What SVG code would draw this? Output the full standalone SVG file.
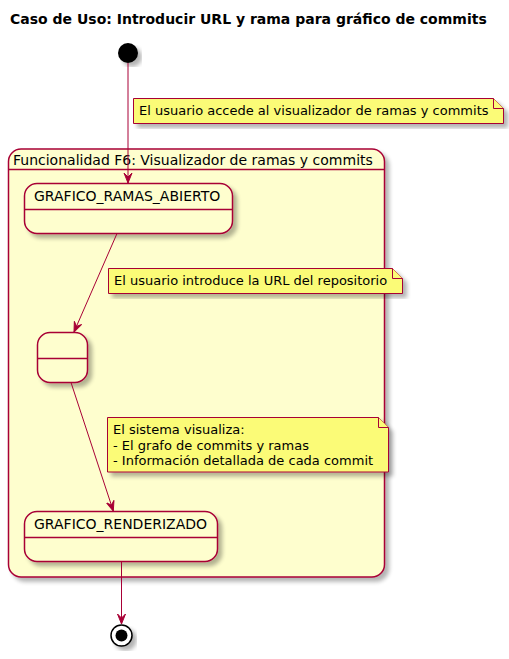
<svg xmlns="http://www.w3.org/2000/svg" width="509" height="659" viewBox="0 0 509 659">
<defs>
<filter id="sh" x="-10%" y="-10%" width="130%" height="130%">
<feGaussianBlur in="SourceAlpha" stdDeviation="2"/>
<feOffset dx="4" dy="4" result="b"/>
<feComponentTransfer><feFuncA type="linear" slope="0.3"/></feComponentTransfer>
<feMerge><feMergeNode/><feMergeNode in="SourceGraphic"/></feMerge>
</filter>
<marker id="arr" viewBox="0 0 10 10" refX="10" refY="5" markerWidth="10" markerHeight="10" markerUnits="userSpaceOnUse" orient="auto">
<path d="M0,1 L10,5 L0,9 L4,5 Z" fill="#A80036" stroke="#A80036" stroke-width="1"/>
</marker>
<style>
text{font-family:"DejaVu Sans","Liberation Sans",sans-serif;fill:#000}
.t{font-size:14px}
.n{font-size:13px}
.st{fill:#FEFECE;stroke:#A80036;stroke-width:1.5}
.dv{stroke:#A80036;stroke-width:1.5}
.note{fill:#FBFB77;stroke:#A80036;stroke-width:1}
.cn{fill:none;stroke:#A80036;stroke-width:1}
</style>
</defs>
<rect width="509" height="659" fill="#FFFFFF"/>
<text x="10" y="24" font-size="14" font-weight="bold" style="font-weight:bold">Caso de Uso: Introducir URL y rama para gráfico de commits</text>

<g id="composite">
<rect x="8.5" y="149" width="376" height="428" rx="12.5" ry="12.5" class="st" filter="url(#sh)"/>
<line x1="8.5" y1="169.5" x2="384.5" y2="169.5" class="dv"/>
<text x="13" y="165" class="t">Funcionalidad F6: Visualizador de ramas y commits</text>
</g>

<g id="start">
<circle cx="128" cy="53" r="10" fill="#000" filter="url(#sh)"/>
</g>

<g id="GRAFICO_RAMAS_ABIERTO">
<rect x="24.5" y="183.5" width="208" height="50" rx="12.5" ry="12.5" class="st" filter="url(#sh)"/>
<line x1="24.5" y1="209.5" x2="232.5" y2="209.5" class="dv"/>
<text x="34" y="201" class="t">GRAFICO_RAMAS_ABIERTO</text>
</g>

<g id="unnamed">
<rect x="37.5" y="332.5" width="50" height="50" rx="12.5" ry="12.5" class="st" filter="url(#sh)"/>
<line x1="37.5" y1="358.5" x2="87.5" y2="358.5" class="dv"/>
</g>

<g id="GRAFICO_RENDERIZADO">
<rect x="24.5" y="511.5" width="193" height="50" rx="12.5" ry="12.5" class="st" filter="url(#sh)"/>
<line x1="24.5" y1="537.5" x2="217.5" y2="537.5" class="dv"/>
<text x="34" y="529" class="t">GRAFICO_RENDERIZADO</text>
</g>

<g id="end">
<circle cx="121.5" cy="635.5" r="10.5" fill="#FFFFFF" stroke="#000" stroke-width="1.5" filter="url(#sh)"/>
<circle cx="121.5" cy="635.5" r="6" fill="#000"/>
</g>

<g id="note1">
<path d="M133.5,98.5 L493.5,98.5 L503.5,108.5 L503.5,123.5 L133.5,123.5 Z" class="note" filter="url(#sh)"/>
<path d="M493.5,98.5 L493.5,108.5 L503.5,108.5" class="note"/>
<text x="139" y="115" class="n">El usuario accede al visualizador de ramas y commits</text>
</g>

<g id="note2">
<path d="M108.5,268.5 L392.5,268.5 L402.5,278.5 L402.5,293.5 L108.5,293.5 Z" class="note" filter="url(#sh)"/>
<path d="M392.5,268.5 L392.5,278.5 L402.5,278.5" class="note"/>
<text x="114" y="285" class="n">El usuario introduce la URL del repositorio</text>
</g>

<g id="note3">
<path d="M107.5,417.5 L378.5,417.5 L388.5,427.5 L388.5,472 L107.5,472 Z" class="note" filter="url(#sh)"/>
<path d="M378.5,417.5 L378.5,427.5 L388.5,427.5" class="note"/>
<text x="113" y="434" class="n">El sistema visualiza:</text>
<text x="113" y="449.5" class="n">- El grafo de commits y ramas</text>
<text x="113" y="465" class="n">- Información detallada de cada commit</text>
</g>

<g id="connectors">
<path d="M128,63 L128,183" class="cn" marker-end="url(#arr)"/>
<path d="M117,233.5 L74,332" class="cn" marker-end="url(#arr)"/>
<path d="M71,382.5 L113.3,511" class="cn" marker-end="url(#arr)"/>
<path d="M121.5,561.5 L121.5,624" class="cn" marker-end="url(#arr)"/>
</g>
</svg>
